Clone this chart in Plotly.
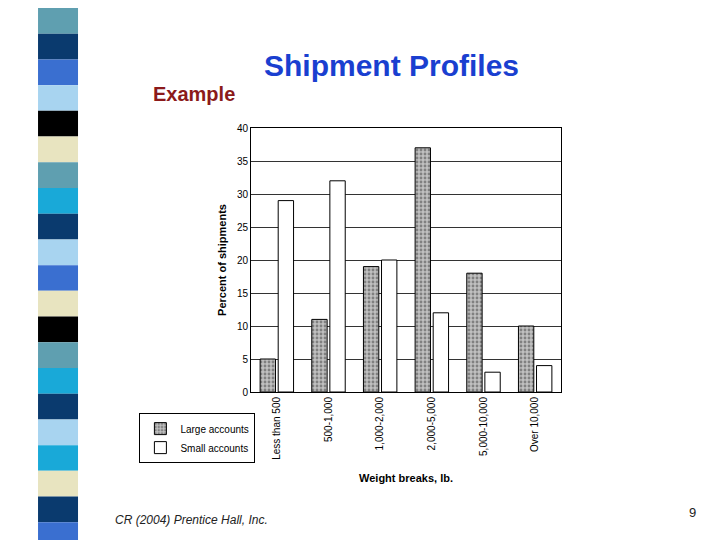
import plotly.graph_objects as go

categories = ["Less than 500", "500-1,000", "1,000-2,000", "2,000-5,000", "5,000-10,000", "Over 10,000"]
large_accounts = [5, 11, 19, 37, 18, 10]
small_accounts = [29, 32, 20, 12, 3, 4]
y_ticks = [0, 5, 10, 15, 20, 25, 30, 35, 40]

# decorative strip on the left side of the slide
strip_colors = ["#5f9fb0", "#0a3a6e", "#3a6fd0", "#a8d4f0", "#000000", "#e8e4c0", "#5f9fb0",
                "#19a9d8", "#0a3a6e", "#a8d4f0", "#3a6fd0", "#e8e4c0", "#000000", "#5f9fb0",
                "#19a9d8", "#0a3a6e", "#a8d4f0", "#19a9d8", "#e8e4c0", "#0a3a6e", "#3a6fd0"]

fig = go.Figure()

fig.add_trace(go.Bar(x=categories, y=large_accounts, name="Large accounts",
                     marker=dict(color="#c0c0c0", line=dict(color="black", width=1),
                                 pattern=dict(shape=".", fgcolor="#404040", size=4, solidity=0.4))))
fig.add_trace(go.Bar(x=categories, y=small_accounts, name="Small accounts",
                     marker=dict(color="white", line=dict(color="black", width=1))))

# strip spans the whole page height (paper coords extend past the plot area)
shapes = []
n = len(strip_colors)
top, bottom = 1 + 120 / 264, -156 / 264
h = (top - bottom) / n
for i, c in enumerate(strip_colors):
    shapes.append(dict(type="rect", xref="paper", yref="paper", layer="above",
                       x0=-0.687, x1=-0.558, y0=top - (i + 1) * h, y1=top - i * h,
                       fillcolor=c, line=dict(width=0)))

fig.update_layout(
    width=720, height=540,
    paper_bgcolor="white", plot_bgcolor="white",
    margin=dict(l=243, r=167, t=120, b=156),
    barmode="group", bargap=0.3, bargroupgap=0.15,
    font=dict(family="Arial, Liberation Sans", size=10, color="black"),
    showlegend=True,
    legend=dict(x=-0.36, y=-0.08, xanchor="left", yanchor="top",
                bordercolor="black", borderwidth=1, bgcolor="white",
                font=dict(size=10), tracegroupgap=0),
    xaxis=dict(tickangle=-90, tickfont=dict(size=10, family="Arial Black, Liberation Sans"),
               showline=True, linecolor="black", mirror=True,
               title=dict(text="<b>Weight breaks, lb.</b>", font=dict(size=11))),
    yaxis=dict(range=[0, 40], tickvals=y_ticks, showgrid=True, gridcolor="#333333", gridwidth=1,
               showline=True, linecolor="black", mirror=True,
               tickfont=dict(size=10),
               title=dict(text="<b>Percent of shipments</b>", font=dict(size=11), standoff=8)),
    shapes=shapes,
)

fig.add_annotation(text="<b>Shipment Profiles</b>", xref="paper", yref="paper", x=0.452, y=1.235,
                   yanchor="middle", showarrow=False,
                   font=dict(size=30, color="#1a3fd0", family="Arial, Liberation Sans"))
fig.add_annotation(text="<b>Example</b>", xref="paper", yref="paper", x=-0.045, y=1.13,
                   xanchor="right", yanchor="middle", showarrow=False,
                   font=dict(size=20, color="#8b1a1a", family="Arial, Liberation Sans"))
fig.add_annotation(text="<i>CR (2004) Prentice Hall, Inc.</i>", xref="paper", yref="paper",
                   x=-0.445, y=-0.485, xanchor="left", yanchor="middle", showarrow=False,
                   font=dict(size=12, color="#222222"))
fig.add_annotation(text="9", xref="paper", yref="paper", x=1.442, y=-0.458, yanchor="middle",
                   showarrow=False, font=dict(size=13, color="#222222"))

fig.write_html("out.html")
